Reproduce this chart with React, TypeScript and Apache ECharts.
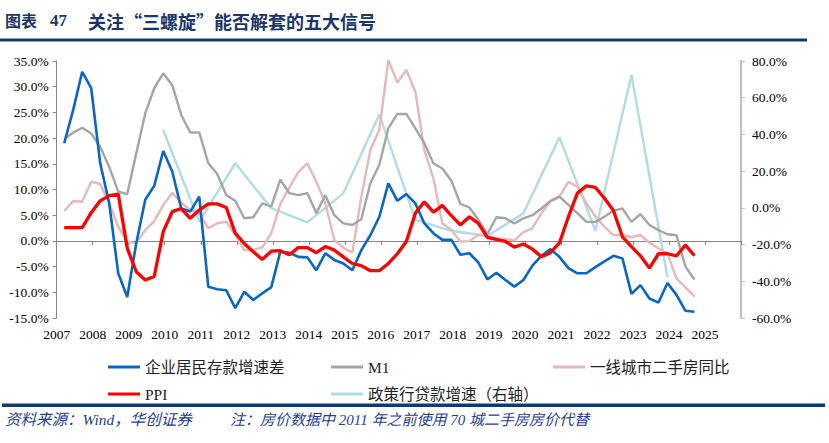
import React, { useEffect, useRef } from "react";
import * as echarts from "echarts";

const START_YEAR = 2007;
const X_MIN = 2007;
const X_MAX = 2026;

// 企业居民存款增速差 (left axis, %), quarterly from 2007Q1
const depositGap = [
  19.0, 25.5, 32.9, 29.7,
  15.1, 7.3, -6.3, -10.9,
  -0.5, 8.0, 10.7, 17.5,
  13.5, 6.3, 5.7, 8.6,
  -8.9, -9.4, -9.6, -13.1,
  -9.9, -11.5, -10.2, -9.0,
  -2.1, -2.3, -3.1, -3.2,
  -5.7, -2.4, -3.7, -4.4,
  -5.7, -1.8, 1.1, 4.7,
  11.2, 7.8, 9.1, 7.3,
  3.4, 1.5, 0.2, 0.2,
  -2.7, -2.4, -4.2, -7.5,
  -6.2, -7.6, -8.9, -7.6,
  -4.8, -2.9, -1.6, -3.1,
  -5.3, -6.3, -6.3, -5.1,
  -4.0, -2.9, -3.4, -10.3,
  -8.6, -11.2, -12.0, -8.2,
  -10.5, -13.6, -13.8,
];

// M1 (left axis, %)
const m1 = [
  19.8, 21.1, 22.0, 20.9,
  18.3, 14.4, 9.6, 9.1,
  17.0, 24.8, 29.7, 32.6,
  30.3, 24.5, 21.1, 21.1,
  15.1, 13.0, 8.9, 7.8,
  4.4, 4.6, 7.3, 6.7,
  11.9, 9.3, 8.9, 9.3,
  5.4, 8.9, 5.0, 3.4,
  3.1, 4.2, 11.2, 14.8,
  21.9, 24.7, 24.7, 21.9,
  19.0, 15.1, 14.1, 11.7,
  7.2, 6.5, 4.1, 1.3,
  4.6, 4.4, 3.4, 4.4,
  5.0, 6.3, 7.8, 8.6,
  7.0, 5.4, 3.7, 3.7,
  4.7, 5.9, 6.3, 3.7,
  5.2, 3.1, 2.1, 1.3,
  1.1, -5.0, -7.5,
];

// PPI (left axis, %)
const ppi = [
  2.6, 2.6, 2.6, 5.5,
  7.8, 8.8, 9.1, -1.4,
  -6.0, -7.6, -6.9, 1.8,
  5.7, 6.3, 4.4, 6.0,
  7.2, 7.2, 6.5, 1.5,
  -0.5, -2.1, -3.6, -2.0,
  -1.9, -2.7, -1.3, -1.3,
  -2.3, -1.1, -1.8, -3.1,
  -4.4, -4.8, -5.8, -5.8,
  -4.4, -2.5, -0.1, 5.4,
  7.6, 5.6, 6.9, 4.9,
  3.1, 4.7, 3.4, 0.7,
  0.3, -0.1, -1.2, -0.6,
  -1.6, -3.1, -2.3, -0.4,
  4.7, 9.3, 10.7, 10.4,
  8.3, 5.9, 0.8, -1.1,
  -2.9, -5.3, -2.5, -2.5,
  -2.9, -0.8, -2.9,
];

// 一线城市二手房同比 (right axis, %)
const tier1Housing = [
  -1.7, 3.7, 3.3, 14.2,
  13.0, 2.5, -10.3, -18.4,
  -19.3, -12.1, -7.2, 1.5,
  8.2, 2.8, -1.2, -3.0,
  -11.1, -8.4, -7.5, -14.8,
  -23.0, -23.0, -21.5, -13.9,
  2.0, 11.0, 19.5, 24.3,
  14.2, 2.5, -17.5, -21.7,
  -24.4, 6.1, 31.5, 42.4,
  80.5, 68.2, 75.1, 63.3,
  31.5, 16.1, -8.4, -12.1,
  -18.4, -18.1, -14.8, -15.3,
  -16.6, -17.1, -17.7, -13.2,
  -11.1, -3.0, 3.3, 6.1,
  14.2, 11.5, 2.5, -4.8,
  -10.3, -14.8, -14.8, -16.0,
  -14.8, -19.0, -22.1, -24.8,
  -38.4, -43.3, -48.4,
];

// 政策行贷款增速 (right axis, %), annual (December)
const policyLoanYears = [2009, 2010, 2011, 2012, 2013, 2014, 2015, 2016, 2017, 2018, 2019, 2020, 2021, 2022, 2023];
const policyLoan = [42.4, -7.5, 24.3, -0.2, -7.9, 7.9, 50.9, -6.6, -12.5, -15.3, -3.0, 38.4, -12.5, 72.4, -37.8];

const NAMES = {
  gap: "企业居民存款增速差",
  m1: "M1",
  house: "一线城市二手房同比",
  ppi: "PPI",
  loan: "政策行贷款增速（右轴）",
};

const SERIF = "'Liberation Serif', 'Times New Roman', 'Noto Sans CJK SC', serif";
const CJK = "'Liberation Serif', 'Noto Sans CJK SC', sans-serif";

function quarterly(values: number[]) {
  return values.map((v, i) => [START_YEAR + Math.floor(i / 4) + ((i % 4) * 3 + 2.5) / 12, v]);
}

export default function App() {
  const ref = useRef<HTMLDivElement>(null);
  useEffect(() => {
    if (!ref.current) return;
    const chart = echarts.init(ref.current, undefined, { renderer: "svg" });
    const pct = (v: number) => v.toFixed(1) + "%";
    const legendBase = {
      orient: "vertical",
      top: 354,
      itemWidth: 32,
      itemHeight: 3,
      itemGap: 11,
      icon: "rect",
      selectedMode: false,
      textStyle: { fontFamily: CJK, fontSize: 15.5, color: "#222", lineHeight: 16 },
    };
    chart.setOption({
      animation: false,
      grid: { left: 56.7, right: 88, top: 61, bottom: 125, containLabel: false },
      legend: [
        { ...legendBase, left: 103, data: [NAMES.gap, NAMES.ppi] },
        { ...legendBase, left: 326, data: [NAMES.m1, NAMES.loan] },
        { ...legendBase, left: 548, data: [NAMES.house] },
      ],
      xAxis: [
        {
          type: "value",
          min: X_MIN,
          max: X_MAX,
          interval: 1,
          position: "bottom",
          axisLine: { show: false, onZero: false },
          axisTick: { show: false },
          splitLine: { show: false },
          axisLabel: {
            margin: 10,
            fontFamily: SERIF,
            fontSize: 13.5,
            color: "#000",
            showMaxLabel: false,
            formatter: (v: number) => String(Math.round(v)),
          },
        },
        {
          type: "value",
          min: X_MIN,
          max: X_MAX,
          interval: 1,
          position: "bottom",
          axisLine: { show: true, onZero: true, onZeroAxisIndex: 0, lineStyle: { color: "#868686", width: 1 } },
          axisTick: { show: true, length: 4, lineStyle: { color: "#868686" } },
          axisLabel: { show: false },
          splitLine: { show: false },
        },
      ],
      yAxis: [
        {
          type: "value",
          min: -15,
          max: 35,
          interval: 5,
          position: "left",
          axisLine: { show: true, lineStyle: { color: "#868686", width: 1 } },
          axisTick: { show: true, length: 4, lineStyle: { color: "#868686" } },
          splitLine: { show: false },
          axisLabel: { margin: 8, fontFamily: SERIF, fontSize: 13.5, color: "#000", formatter: pct },
        },
        {
          type: "value",
          min: -60,
          max: 80,
          interval: 20,
          position: "right",
          axisLine: { show: true, lineStyle: { color: "#bfbfbf", width: 2 } },
          axisTick: { show: true, length: 4, lineStyle: { color: "#bfbfbf" } },
          splitLine: { show: false },
          axisLabel: { margin: 11, fontFamily: SERIF, fontSize: 13.5, color: "#000", formatter: pct },
        },
      ],
      series: [
        {
          name: NAMES.loan,
          type: "line",
          yAxisIndex: 1,
          data: policyLoanYears.map((y, i) => [y + 11.5 / 12, policyLoan[i]]),
          showSymbol: false,
          symbol: "none",
          color: "#b2dbe8",
          lineStyle: { width: 2.4, color: "#b2dbe8" },
          z: 2,
        },
        {
          name: NAMES.house,
          type: "line",
          yAxisIndex: 1,
          data: quarterly(tier1Housing),
          showSymbol: false,
          symbol: "none",
          color: "#e6b9b8",
          lineStyle: { width: 2.4, color: "#e6b9b8" },
          z: 3,
        },
        {
          name: NAMES.m1,
          type: "line",
          yAxisIndex: 0,
          data: quarterly(m1),
          showSymbol: false,
          symbol: "none",
          color: "#a5a5a5",
          lineStyle: { width: 2.4, color: "#a5a5a5" },
          z: 4,
        },
        {
          name: NAMES.gap,
          type: "line",
          yAxisIndex: 0,
          data: quarterly(depositGap),
          showSymbol: false,
          symbol: "none",
          color: "#0a66c2",
          lineStyle: { width: 2.6, color: "#0a66c2" },
          z: 5,
        },
        {
          name: NAMES.ppi,
          type: "line",
          yAxisIndex: 0,
          data: quarterly(ppi),
          showSymbol: false,
          symbol: "none",
          color: "#ff0000",
          lineStyle: { width: 3.3, color: "#ff0000" },
          z: 6,
        },
      ],
      graphic: [
        {
          type: "text",
          left: 5,
          top: 12,
          style: { text: "图表", fontFamily: "'Noto Sans CJK SC', sans-serif", fontSize: 16, fontWeight: "bold", fill: "#1b3667" },
        },
        {
          type: "text",
          left: 50,
          top: 12,
          style: { text: "47", fontFamily: SERIF, fontSize: 17, fontWeight: "bold", fill: "#1b3667" },
        },
        {
          type: "text",
          left: 88,
          top: 12,
          style: { text: "关注“三螺旋”能否解套的五大信号", fontFamily: "'Noto Sans CJK SC', sans-serif", fontSize: 18, fontWeight: "bold", fill: "#1b3667" },
        },
        { type: "rect", shape: { x: 0, y: 38.5, width: 807, height: 3 }, style: { fill: "#123a70" } },
        { type: "rect", shape: { x: 2, y: 403.5, width: 823, height: 3.5 }, style: { fill: "#0b3a75" } },
        {
          type: "text",
          left: 5,
          top: 412,
          style: { text: "资料来源：Wind，华创证券", fontFamily: CJK, fontSize: 15.5, fontStyle: "italic", fill: "#1f3f8f" },
        },
        {
          type: "text",
          left: 230,
          top: 412,
          style: { text: "注：房价数据中 2011 年之前使用 70 城二手房房价代替", fontFamily: CJK, fontSize: 15, fontStyle: "italic", fill: "#1f3f8f" },
        },
      ],
    });
    return () => chart.dispose();
  }, []);
  return <div ref={ref} style={{ position: "absolute", left: 0, top: 0, width: 829, height: 443 }} />;
}
